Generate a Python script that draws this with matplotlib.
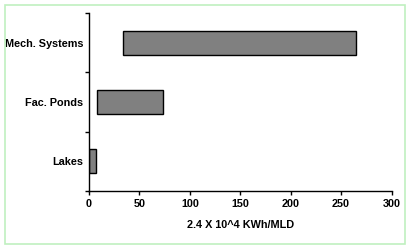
import matplotlib
matplotlib.use("Agg")
import matplotlib.pyplot as plt
from matplotlib.patches import Rectangle

plt.rcParams['font.family'] = ['Liberation Sans', 'DejaVu Sans']

# data: range of values per system
categories = ['Lakes', 'Fac. Ponds', 'Mech. Systems']
low = [0, 8, 34]
high = [6.5, 73, 265]
widths = [h - l for l, h in zip(low, high)]
xticks = [0, 50, 100, 150, 200, 250, 300]

FS = 7.8

fig = plt.figure(figsize=(4.11, 2.49), dpi=100)
ax = fig.add_axes([89 / 411, 1 - 191 / 249, 302.5 / 411, 178 / 249])

ax.barh(range(len(categories)), widths, left=low, height=0.4,
        color='#808080', edgecolor='black', linewidth=1.0)

ax.set_xlim(0, 300)
ax.set_ylim(-0.5, len(categories) - 0.5)
ax.set_xticks(xticks)
ax.set_xticklabels([str(t) for t in xticks], fontsize=FS, fontweight='bold')
ax.set_yticks([i - 0.5 for i in range(len(categories) + 1)])
ax.set_yticklabels([])
ax.set_yticks(range(len(categories)), minor=True)
ax.set_yticklabels(categories, minor=True, fontsize=FS, fontweight='bold')
ax.tick_params(axis='y', which='minor', length=0, pad=4)
ax.tick_params(axis='y', which='major', direction='out', length=3, width=1)
ax.tick_params(axis='x', direction='out', length=3, width=1, pad=3)

ax.spines['top'].set_visible(False)
ax.spines['right'].set_visible(False)
ax.spines['left'].set_linewidth(1)
ax.spines['bottom'].set_linewidth(1)

ax.set_xlabel('2.4 X 10^4 KWh/MLD', fontsize=FS, fontweight='bold', labelpad=8)

# light green frame around the chart area
fig.patches.append(Rectangle((5 / 411, 5 / 249), 400 / 411, 239 / 249,
                             transform=fig.transFigure, fill=False,
                             edgecolor='#c0f0c0', linewidth=1.2))

fig.savefig('out.png', dpi=100)
